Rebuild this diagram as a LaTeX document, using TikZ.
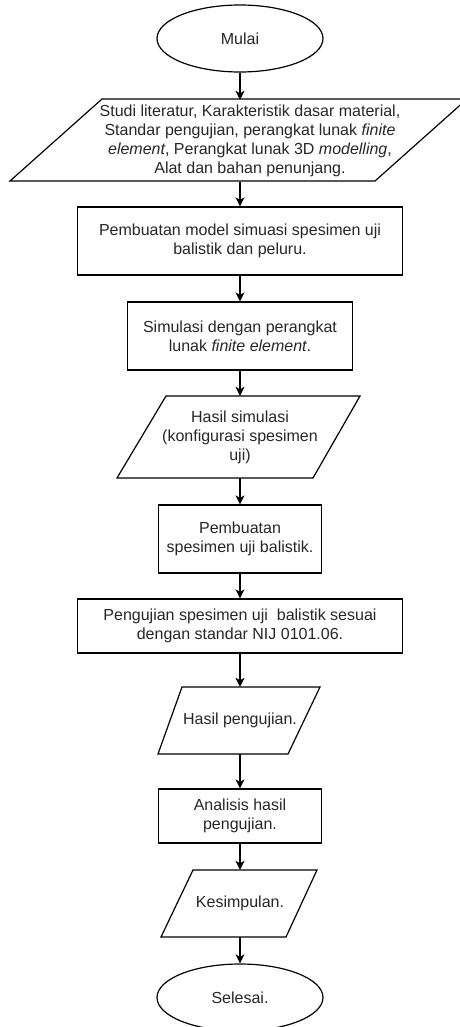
\documentclass[tikz,border=0pt]{standalone}
\usepackage{fontspec}
\setmainfont{Liberation Sans}
\usetikzlibrary{arrows.meta,shapes.geometric,calc}
\tikzset{
  base/.style={inner sep=0pt, align=center, text=black!85, font=\fontsize{16}{19}\selectfont},
  procbox/.style={base, draw, line width=1.2pt},
  termbox/.style={base, draw, ellipse, line width=1.2pt, minimum width=166pt, minimum height=67pt},
  iotext/.style={base},
  ioline/.style={draw, line width=1.2pt, line join=miter},
  arr/.style={line width=1.2pt, -{Stealth[length=9pt,width=9pt,inset=2.5pt]}}
}
\begin{document}
\begin{tikzpicture}[x=1pt,y=-1pt]
\useasboundingbox (0,0) rectangle (460,1027);

% terminal start
\node[termbox] (e1) at (240,38.5) {Mulai};

% input 1
\path[ioline] (102,99) -- (467,99) -- (375,181) -- (10,181) -- cycle;
\node[iotext, minimum height=82pt] (p1) at (250,141) {Studi literatur, Karakteristik dasar material,\\ Standar pengujian, perangkat lunak \textit{finite}\\ \textit{element}, Perangkat lunak 3D \textit{modelling},\\ Alat dan bahan penunjang.};

% process boxes
\node[procbox, minimum width=325pt, minimum height=68pt] (r1) at (240,241) {Pembuatan model simuasi spesimen uji\\ balistik dan peluru.};
\node[procbox, minimum width=225pt, minimum height=68pt] (r2) at (240,336) {Simulasi dengan perangkat\\ lunak \textit{finite element}.};

% input 2
\path[ioline] (166,396) -- (360,396) -- (313,478) -- (117,478) -- cycle;
\node[iotext, minimum height=82pt] (p2) at (240,437) {Hasil simulasi\\ (konfigurasi spesimen\\ uji)};

\node[procbox, minimum width=163pt, minimum height=68pt] (r3) at (240,539) {Pembuatan\\ spesimen uji balistik.};
\node[procbox, minimum width=325pt, minimum height=54pt] (r4) at (240,626) {Pengujian spesimen uji~ balistik sesuai\\ dengan standar NIJ 0101.06.};

% input 3
\path[ioline] (182,687) -- (320,687) -- (288,754) -- (158,754) -- cycle;
\node[iotext, minimum height=67pt] (p3) at (240,720.5) {Hasil pengujian.};

\node[procbox, minimum width=163pt, minimum height=54pt] (r5) at (240,816) {Analisis hasil\\ pengujian.};

% input 4
\path[ioline] (193,870) -- (317,870) -- (286,937) -- (161,937) -- cycle;
\node[iotext, minimum height=67pt] (p4) at (240,903.5) {Kesimpulan.};

% terminal end
\node[termbox] (e2) at (240,997.5) {Selesai.};

% connectors
\draw[arr] (e1.south) -- (e1.south |- p1.north);
\draw[arr] (p1.south -| e1.south) -- (r1.north);
\draw[arr] (r1) -- (r2);
\draw[arr] (r2) -- (p2);
\draw[arr] (p2) -- (r3);
\draw[arr] (r3) -- (r4);
\draw[arr] (r4) -- (p3);
\draw[arr] (p3) -- (r5);
\draw[arr] (r5) -- (p4);
\draw[arr] (p4) -- (e2);
\end{tikzpicture}
\end{document}
